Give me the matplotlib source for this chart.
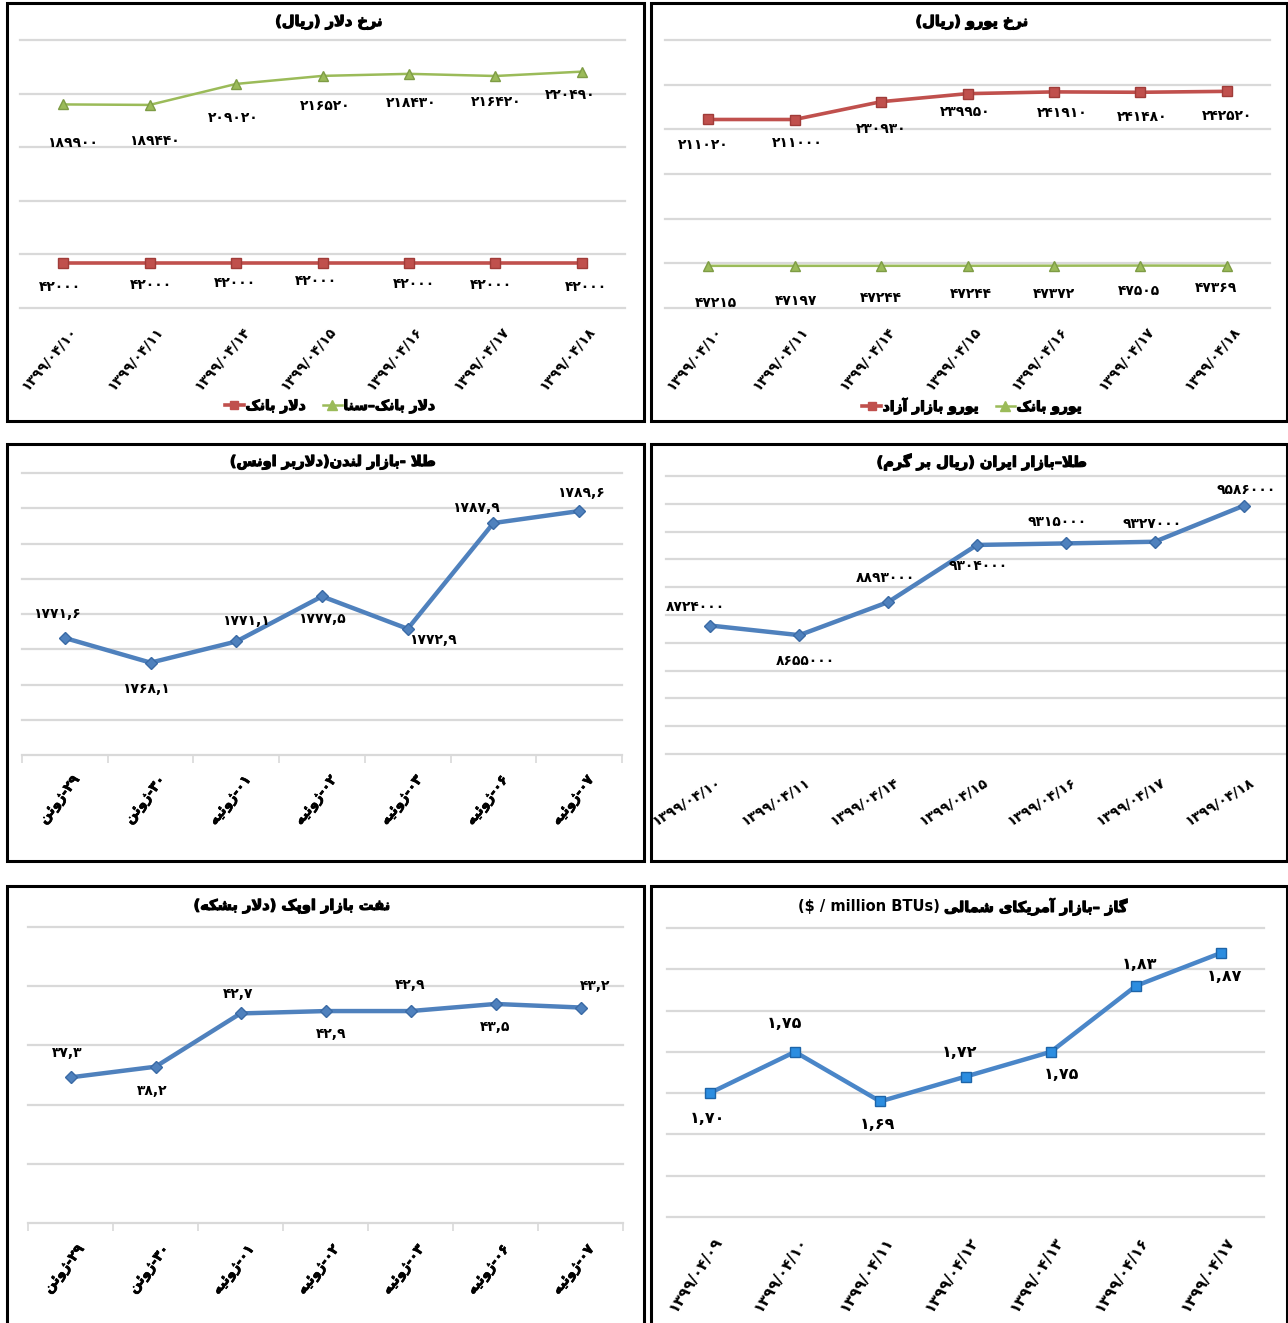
import matplotlib
matplotlib.use("Agg")
import matplotlib.pyplot as plt
import matplotlib.patheffects as pe
from matplotlib.lines import Line2D
from matplotlib.patches import Rectangle
from matplotlib.transforms import ScaledTranslation

plt.rcParams['font.family'] = ['DejaVu Sans']

# ---------------- data ----------------
dates_a = ["1399/04/10", "1399/04/11", "1399/04/14", "1399/04/15", "1399/04/16", "1399/04/17", "1399/04/18"]
dates_gas = ["1399/04/09", "1399/04/10", "1399/04/11", "1399/04/12", "1399/04/13", "1399/04/16", "1399/04/17"]
dates_greg = ["29-ژوئن", "30-ژوئن", "01-ژوئیه", "02-ژوئیه", "03-ژوئیه", "06-ژوئیه", "07-ژوئیه"]

dollar_bank = [42000, 42000, 42000, 42000, 42000, 42000, 42000]
dollar_sana = [189900, 189440, 209020, 216520, 218430, 216420, 220490]
euro_free = [211020, 211000, 230930, 239950, 241910, 241480, 242520]
euro_bank = [47215, 47197, 47244, 47244, 47372, 47505, 47369]
gold_london = [1771.6, 1768.1, 1771.1, 1777.5, 1772.9, 1787.9, 1789.6]
gold_iran = [8724000, 8655000, 8893000, 9304000, 9315000, 9327000, 9586000]
oil_opec = [37.3, 38.2, 42.7, 42.9, 42.9, 43.5, 43.2]
gas_na = [1.70, 1.75, 1.69, 1.72, 1.75, 1.83, 1.87]

# ---------------- Persian text helpers ----------------
FORMS = {  # isolated, final, initial, medial
    'ا': ('\uFE8D', '\uFE8E', None, None),
    'آ': ('\uFE81', '\uFE82', None, None),
    'د': ('\uFEA9', '\uFEAA', None, None),
    'ر': ('\uFEAD', '\uFEAE', None, None),
    'ز': ('\uFEAF', '\uFEB0', None, None),
    'ژ': ('\uFB8A', '\uFB8B', None, None),
    'و': ('\uFEED', '\uFEEE', None, None),
    'ب': ('\uFE8F', '\uFE90', '\uFE91', '\uFE92'),
    'پ': ('\uFB56', '\uFB57', '\uFB58', '\uFB59'),
    'ت': ('\uFE95', '\uFE96', '\uFE97', '\uFE98'),
    'خ': ('\uFEA5', '\uFEA6', '\uFEA7', '\uFEA8'),
    'س': ('\uFEB1', '\uFEB2', '\uFEB3', '\uFEB4'),
    'ش': ('\uFEB5', '\uFEB6', '\uFEB7', '\uFEB8'),
    'ط': ('\uFEC1', '\uFEC2', '\uFEC3', '\uFEC4'),
    'ف': ('\uFED1', '\uFED2', '\uFED3', '\uFED4'),
    'ک': ('\uFB8E', '\uFB8F', '\uFB90', '\uFB91'),
    'گ': ('\uFB92', '\uFB93', '\uFB94', '\uFB95'),
    'ل': ('\uFEDD', '\uFEDE', '\uFEDF', '\uFEE0'),
    'م': ('\uFEE1', '\uFEE2', '\uFEE3', '\uFEE4'),
    'ن': ('\uFEE5', '\uFEE6', '\uFEE7', '\uFEE8'),
    'ه': ('\uFEE9', '\uFEEA', '\uFEEB', '\uFEEC'),
    'ی': ('\uFBFC', '\uFBFD', '\uFBFE', '\uFBFF'),
    'ئ': ('\uFE89', '\uFE8A', '\uFE8B', '\uFE8C'),
}
LAMALEF = {'ا': ('\uFEFB', '\uFEFC'), 'آ': ('\uFEF5', '\uFEF6')}


def dual(c):
    return c in FORMS and FORMS[c][2] is not None


def shape(s):
    out = []
    i = 0
    n = len(s)
    while i < n:
        c = s[i]
        if c not in FORMS:
            out.append(c)
            i += 1
            continue
        prev_j = i > 0 and dual(s[i - 1])
        if c == 'ل' and i + 1 < n and s[i + 1] in LAMALEF:
            out.append(LAMALEF[s[i + 1]][1 if prev_j else 0])
            i += 2
            continue
        next_j = i + 1 < n and s[i + 1] in FORMS
        f = FORMS[c]
        if dual(c):
            if prev_j and next_j:
                out.append(f[3])
            elif prev_j:
                out.append(f[1])
            elif next_j:
                out.append(f[2])
            else:
                out.append(f[0])
        else:
            out.append(f[1] if prev_j else f[0])
        i += 1
    return ''.join(out)


def is_rtl(ch):
    o = ord(ch)
    return (0x0600 <= o <= 0x06EF) or (0xFB50 <= o <= 0xFDFF) or (0xFE70 <= o <= 0xFEFF)


def is_ltr(ch):
    return ch.isalnum() and not is_rtl(ch)


def fa_digits(s):
    return s.translate(str.maketrans('0123456789', '۰۱۲۳۴۵۶۷۸۹'))


def vis(s):
    """Logical Persian string -> visual (LTR drawn) string."""
    s = fa_digits(shape(s))
    cls = []
    for ch in s:
        cls.append('R' if is_rtl(ch) else ('L' if is_ltr(ch) else 'N'))
    res = list(cls)
    for i, c in enumerate(cls):
        if c == 'N':
            left = next((cls[j] for j in range(i - 1, -1, -1) if cls[j] != 'N'), 'R')
            right = next((cls[j] for j in range(i + 1, len(cls)) if cls[j] != 'N'), 'R')
            res[i] = 'L' if (left == 'L' and right == 'L') else 'R'
    runs = []
    for ch, c in zip(s, res):
        if runs and runs[-1][0] == c:
            runs[-1][1].append(ch)
        else:
            runs.append([c, [ch]])
    mirror = {'(': ')', ')': '('}
    out = []
    for c, chars in reversed(runs):
        if c == 'R':
            out.append(''.join(mirror.get(ch, ch) for ch in reversed(chars)))
        else:
            out.append(''.join(chars))
    return ''.join(out)


def num(v, dec=0):
    return fa_digits(f"{v:.{dec}f}").replace('.', ',')


# ---------------- layout helpers ----------------
W, H = 1288, 1323
fig = plt.figure(figsize=(W / 100, H / 100), dpi=100)
fig.patch.set_facecolor('white')

HEAVY = [pe.withStroke(linewidth=0.8, foreground='black')]


def frac_rect(x0, y0, x1, y1):
    return [x0 / W, 1 - y1 / H, (x1 - x0) / W, (y1 - y0) / H]


def border(x0, y0, x1, y1):
    fig.add_artist(Rectangle((x0 / W, 1 - y1 / H), (x1 - x0) / W, (y1 - y0) / H,
                             transform=fig.transFigure, fill=False, lw=2.2, ec='black'))


RED = '#C0504D'
GREEN = '#9BBB59'
BLUE = '#4F81BD'
GRID = '#D9D9D9'
BOLD = dict(fontweight='bold', color='black')


def make_axes(rect, ylim, ystep, xlabels, rot, pad, xshift, fs=10, boundary_ticks=False, effects=None):
    ax = fig.add_axes(frac_rect(*rect))
    ax.set_xlim(-0.5, 6.5)
    ax.set_ylim(*ylim)
    for sp in ax.spines.values():
        sp.set_visible(False)
    y = ylim[0]
    while y <= ylim[1] + ystep * 1e-6:
        ax.axhline(y, color=GRID, lw=1.6, zorder=0, clip_on=False)
        y += ystep
    ax.set_yticks([])
    ax.set_xticks(range(7))
    ax.set_xticklabels(xlabels, rotation=rot, ha='right', va='top',
                       rotation_mode='anchor', fontsize=fs, fontweight='bold')
    ax.tick_params(axis='x', length=0, pad=pad)
    off = ScaledTranslation(xshift / 100, 0, fig.dpi_scale_trans)
    for lab in ax.get_xticklabels():
        lab.set_transform(lab.get_transform() + off)
        if effects:
            lab.set_path_effects(effects)
    if boundary_ticks:
        ax.set_xticks([i - 0.5 for i in range(8)], minor=True)
        ax.tick_params(axis='x', which='minor', length=6, color=GRID, width=1.2)
    return ax


def labels(ax, vals, texts, offs, fs=10):
    for i, (v, t, (dx, dy)) in enumerate(zip(vals, texts, offs)):
        ax.annotate(t, (i, v), xytext=(dx, dy), textcoords='offset pixels',
                    ha='center', va='center', fontsize=fs, **BOLD)


def title(x, y, s, fs=10.5, ha='center'):
    fig.text(x / W, 1 - y / H, s, ha=ha, va='center', fontsize=fs,
             path_effects=HEAVY, **BOLD)


def legend(handles, texts, x, y):
    leg = fig.legend(handles, texts, loc='center', bbox_to_anchor=(x / W, 1 - y / H),
                     ncol=2, frameon=False, handlelength=1.4, handletextpad=0.1,
                     columnspacing=1.2, prop=dict(weight='bold', size=10))
    for t in leg.get_texts():
        t.set_path_effects(HEAVY)


date_lbl_a = [fa_digits(d) for d in dates_a]
date_lbl_gas = [fa_digits(d) for d in dates_gas]
greg_lbl = [vis(d) for d in dates_greg]
GREG_FX = [pe.withStroke(linewidth=0.5, foreground='black')]

# ---------------- panel 1: dollar ----------------
border(7, 3, 644, 421)
ax1 = make_axes((20, 40, 625, 308), (0, 250000), 50000, date_lbl_a, 50, 12, 5)
ax1.plot(range(7), dollar_bank, color=RED, lw=2.6, marker='s', ms=6.5, mfc=RED, mec='#A03C39', zorder=3)
ax1.plot(range(7), dollar_sana, color=GREEN, lw=1.8, marker='^', ms=7, mfc=GREEN, mec='#7E9C45', zorder=3)
labels(ax1, dollar_sana, [num(v) for v in dollar_sana],
       [(9, -39), (5, -36), (-3, -34), (3, -30), (2, -29), (1, -26), (-12, -23)])
labels(ax1, dollar_bank, [num(v) for v in dollar_bank],
       [(-3, -24), (1, -22), (-1, -20), (-6, -18), (5, -21), (-4, -22), (4, -24)])
title(329, 22, vis("نرخ دلار (ریال)"))
h1 = [Line2D([], [], color=RED, lw=2.6, marker='s', ms=6, mfc=RED),
      Line2D([], [], color=GREEN, lw=1.8, marker='^', ms=6.5, mfc=GREEN)]
legend(h1, [vis("دلار بانک"), vis("دلار بانک–سنا")], 330, 406)

# ---------------- panel 2: euro ----------------
border(651, 3, 1287, 421)
ax2 = make_axes((665, 40, 1270, 308), (0, 300000), 50000, date_lbl_a, 50, 12, 5)
ax2.plot(range(7), euro_free, color=RED, lw=2.6, marker='s', ms=6.5, mfc=RED, mec='#A03C39', zorder=3)
ax2.plot(range(7), euro_bank, color=GREEN, lw=1.8, marker='^', ms=7, mfc=GREEN, mec='#7E9C45', zorder=3)
labels(ax2, euro_free, [num(v) for v in euro_free],
       [(-5, -26), (3, -23), (0, -27), (-2, -18), (8, -21), (2, -25), (0, -25)])
labels(ax2, euro_bank, [num(v) for v in euro_bank],
       [(8, -37), (1, -35), (0, -32), (3, -28), (0, -28), (-1, -25), (-11, -22)])
title(972, 22, vis("نرخ یورو (ریال)"))
h2 = [Line2D([], [], color=RED, lw=2.6, marker='s', ms=6, mfc=RED),
      Line2D([], [], color=GREEN, lw=1.8, marker='^', ms=6.5, mfc=GREEN)]
legend(h2, [vis("یورو بازار آزاد"), vis("یورو بانک")], 972, 406)

# ---------------- panel 3: gold London ----------------
border(7, 444, 644, 861)
ax3 = make_axes((22, 473, 622, 755), (1755, 1795), 5, greg_lbl, 52, 13, 7,
                boundary_ticks=True, effects=GREG_FX)
ax3.plot(range(7), gold_london, color=BLUE, lw=3.2, marker='D', ms=6, mfc=BLUE, mec='#3A6AA5', zorder=3)
labels(ax3, gold_london, [num(v, 1) for v in gold_london],
       [(-8, 24), (-5, -26), (10, 20), (0, -23), (25, -11), (-18, 15), (2, 18)])
title(333, 462, vis("طلا -بازار لندن(دلاربر اونس)"))

# ---------------- panel 4: gold Iran ----------------
border(651, 444, 1287, 861)
ax4 = make_axes((666, 476, 1288, 754), (7800000, 9800000), 200000, date_lbl_a, 32, 15, 5)
ax4.plot(range(7), gold_iran, color=BLUE, lw=3.2, marker='D', ms=6.5, mfc=BLUE, mec='#3A6AA5', zorder=3)
labels(ax4, gold_iran, [num(v) for v in gold_iran],
       [(-15, 19), (6, -26), (-3, 24), (1, -21), (-9, 21), (-3, 18), (3, 16)])
title(982, 462, vis("طلا–بازار ایران (ریال بر گرم)"))

# ---------------- panel 5: oil ----------------
border(7, 886, 644, 1340)
ax5 = make_axes((28, 927, 623, 1223), (25, 50), 5, greg_lbl, 52, 14, 6,
                boundary_ticks=True, effects=GREG_FX)
ax5.plot(range(7), oil_opec, color=BLUE, lw=3.2, marker='D', ms=6, mfc=BLUE, mec='#3A6AA5', zorder=3)
labels(ax5, oil_opec, [num(v, 1) for v in oil_opec],
       [(-3, 24), (-3, -24), (-2, 19), (6, -23), (0, 26), (0, -23), (15, 22)])
title(292, 906, vis("نفت بازار اوپک (دلار بشکه)"))

# ---------------- panel 6: gas ----------------
border(651, 886, 1287, 1340)
ax6 = make_axes((667, 928, 1264, 1217), (1.55, 1.90), 0.05, date_lbl_gas, 57, 12, 3, fs=11)
ax6.plot(range(7), gas_na, color='#4A86C8', lw=3.2, marker='s', ms=6.5, mfc='#2B8DE0', mec='#1D64A8', zorder=3)
labels(ax6, gas_na, [num(v, 2) for v in gas_na],
       [(-2, -25), (-10, 28), (-3, -23), (-6, 24), (11, -23), (3, 21), (3, -24)], fs=11.5)
fig.text(940 / W, 1 - 907 / H, r"(\$ / million BTUs)", ha='right', va='center',
         fontsize=10.5, **BOLD)
title(944, 907, vis("گاز –بازار آمریکای شمالی"), ha='left')

fig.savefig("out.png", dpi=100, facecolor='white')
